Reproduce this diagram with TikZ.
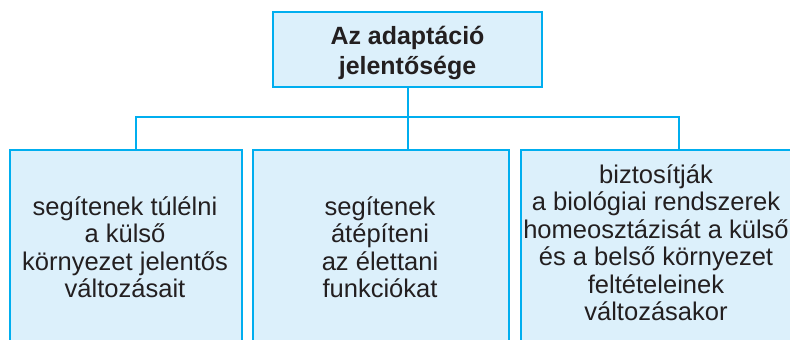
\documentclass[tikz,border=0pt]{standalone}
\usepackage{fontspec}
\setmainfont{Liberation Sans}
\definecolor{linecyan}{HTML}{00AEEF}
\definecolor{boxfill}{HTML}{DCF0FB}
\definecolor{ink}{HTML}{231F20}
\begin{document}
\begin{tikzpicture}[
    head/.style={
        draw=linecyan,
        fill=boxfill,
        line width=1.9pt,
        minimum width=8.07cm,
        minimum height=2.25cm
    },
    leaf/.style={
        draw=linecyan,
        fill=boxfill,
        line width=1.9pt,
        minimum height=6.0cm,
        anchor=north west
    },
    txt/.style={
        align=center,
        text=ink,
        inner sep=0pt,
        font=\fontsize{21.8pt}{23.4pt}\selectfont
    },
    link/.style={
        draw=linecyan,
        line width=1.7pt
    }
]
\clip (0,0) rectangle (23.7,-10.2);

%--- Fő doboz ---
\node[head] (top) at (12.225,-1.485) {};
\node[txt, font=\fontsize{21.3pt}{25.4pt}\selectfont\bfseries]
    (toptxt) at (12.225,-1.6) {Az adaptáció\\jelentősége};

%--- Alsó dobozok ---
\node[leaf, minimum width=6.96cm] (box1) at (0.27,-4.47) {};
\node[leaf, minimum width=7.68cm] (box2) at (7.56,-4.47) {};
\node[leaf, minimum width=8.16cm] (box3) at (15.6,-4.47) {};

%--- Szövegek ---
\node[txt] (txt1) at (3.75,-7.42)
    {segítenek túlélni\\a külső\\környezet jelentős\\változásait};
\node[txt] (txt2) at (11.4,-7.42)
    {segítenek\\átépíteni\\az élettani\\funkciókat};
\node[txt] (txt3) at (19.68,-7.28)
    {biztosítják\\a biológiai rendszerek\\homeosztázisát a külső\\és a belső környezet\\feltételeinek\\változásakor};

%--- Összekötő vonalak ---
\coordinate (d1) at (4.08,-4.47);
\coordinate (d3) at (20.37,-4.47);
\coordinate (bus) at (12.24,-3.51);
\draw[link] (top.south) -- (top.south |- box2.north);
\draw[link] (d1) |- (bus) -| (d3);

\end{tikzpicture}
\end{document}
